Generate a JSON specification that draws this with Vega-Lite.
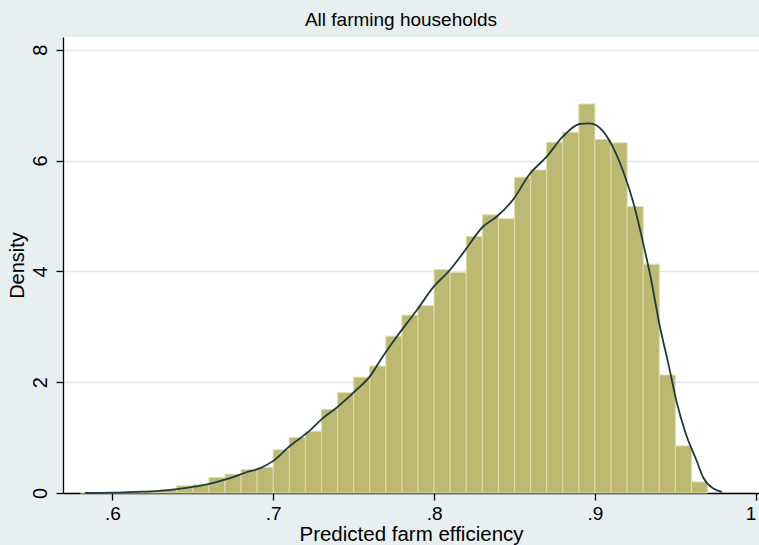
{
  "$schema": "https://vega.github.io/schema/vega-lite/v6.json",
  "width": 696,
  "height": 456,
  "autosize": "none",
  "padding": {"left": 63, "top": 37, "right": 0, "bottom": 52},
  "background": "#e8eff1",
  "config": {
    "view": {"fill": "white", "stroke": null},
    "font": "Liberation Sans",
    "axis": {"labelFont": "Liberation Sans", "titleFont": "Liberation Sans", "labelColor": "black", "titleColor": "black", "titleFontWeight": "normal"}
  },
  "title": {"text": "All farming households", "fontSize": 19, "fontWeight": "normal", "color": "black", "anchor": "middle", "offset": 7, "dx": -10, "font": "Liberation Sans"},
  "datasets": {
    "bins": [
      {"start": 0.58, "end": 0.59, "density": 0.005},
      {"start": 0.59, "end": 0.60, "density": 0.01},
      {"start": 0.60, "end": 0.61, "density": 0.01},
      {"start": 0.61, "end": 0.62, "density": 0.02},
      {"start": 0.62, "end": 0.63, "density": 0.03},
      {"start": 0.63, "end": 0.64, "density": 0.06},
      {"start": 0.64, "end": 0.65, "density": 0.13},
      {"start": 0.65, "end": 0.66, "density": 0.15},
      {"start": 0.66, "end": 0.67, "density": 0.28},
      {"start": 0.67, "end": 0.68, "density": 0.34},
      {"start": 0.68, "end": 0.69, "density": 0.42},
      {"start": 0.69, "end": 0.70, "density": 0.46},
      {"start": 0.70, "end": 0.71, "density": 0.78},
      {"start": 0.71, "end": 0.72, "density": 1.00},
      {"start": 0.72, "end": 0.73, "density": 1.11},
      {"start": 0.73, "end": 0.74, "density": 1.51},
      {"start": 0.74, "end": 0.75, "density": 1.81},
      {"start": 0.75, "end": 0.76, "density": 2.09},
      {"start": 0.76, "end": 0.77, "density": 2.29},
      {"start": 0.77, "end": 0.78, "density": 2.83},
      {"start": 0.78, "end": 0.79, "density": 3.21},
      {"start": 0.79, "end": 0.80, "density": 3.38},
      {"start": 0.80, "end": 0.81, "density": 4.03},
      {"start": 0.81, "end": 0.82, "density": 3.98},
      {"start": 0.82, "end": 0.83, "density": 4.63},
      {"start": 0.83, "end": 0.84, "density": 5.02},
      {"start": 0.84, "end": 0.85, "density": 4.95},
      {"start": 0.85, "end": 0.86, "density": 5.70},
      {"start": 0.86, "end": 0.87, "density": 5.83},
      {"start": 0.87, "end": 0.88, "density": 6.33},
      {"start": 0.88, "end": 0.89, "density": 6.51},
      {"start": 0.89, "end": 0.90, "density": 7.02},
      {"start": 0.90, "end": 0.91, "density": 6.38},
      {"start": 0.91, "end": 0.92, "density": 6.32},
      {"start": 0.92, "end": 0.93, "density": 5.17},
      {"start": 0.93, "end": 0.94, "density": 4.13},
      {"start": 0.94, "end": 0.95, "density": 2.13},
      {"start": 0.95, "end": 0.96, "density": 0.85},
      {"start": 0.96, "end": 0.97, "density": 0.20}
    ],
    "kde": [
      {"x": 0.583, "density": 0.0},
      {"x": 0.600, "density": 0.005},
      {"x": 0.615, "density": 0.02},
      {"x": 0.629, "density": 0.04},
      {"x": 0.640, "density": 0.07},
      {"x": 0.650, "density": 0.11},
      {"x": 0.661, "density": 0.17},
      {"x": 0.671, "density": 0.25},
      {"x": 0.683, "density": 0.37},
      {"x": 0.692, "density": 0.45},
      {"x": 0.700, "density": 0.58},
      {"x": 0.710, "density": 0.84},
      {"x": 0.7225, "density": 1.12},
      {"x": 0.730, "density": 1.33},
      {"x": 0.739, "density": 1.53},
      {"x": 0.7517, "density": 1.86},
      {"x": 0.760, "density": 2.10},
      {"x": 0.768, "density": 2.46},
      {"x": 0.776, "density": 2.79},
      {"x": 0.790, "density": 3.33},
      {"x": 0.7994, "density": 3.71},
      {"x": 0.810, "density": 4.03},
      {"x": 0.818, "density": 4.33},
      {"x": 0.8305, "density": 4.81},
      {"x": 0.839, "density": 4.99},
      {"x": 0.849, "density": 5.29},
      {"x": 0.859, "density": 5.74},
      {"x": 0.870, "density": 6.07},
      {"x": 0.880, "density": 6.43},
      {"x": 0.8905, "density": 6.66},
      {"x": 0.8967, "density": 6.67},
      {"x": 0.905, "density": 6.53},
      {"x": 0.911, "density": 6.25},
      {"x": 0.918, "density": 5.77},
      {"x": 0.924, "density": 5.23},
      {"x": 0.930, "density": 4.51},
      {"x": 0.935, "density": 3.84},
      {"x": 0.940, "density": 3.06},
      {"x": 0.9456, "density": 2.34},
      {"x": 0.951, "density": 1.62},
      {"x": 0.9564, "density": 1.08},
      {"x": 0.963, "density": 0.60},
      {"x": 0.9675, "density": 0.27},
      {"x": 0.9737, "density": 0.08},
      {"x": 0.979, "density": 0.02}
    ]
  },
  "layer": [
    {
      "data": {"name": "bins"},
      "mark": {"type": "rect", "fill": "#bcb973", "stroke": "#dfdca8", "strokeWidth": 1},
      "encoding": {
        "x": {
          "field": "start", "type": "quantitative",
          "scale": {"domain": [0.5693, 1.002], "nice": false, "zero": false},
          "axis": {
            "values": [0.6, 0.7, 0.8, 0.9, 1],
            "labelExpr": "datum.value >= 1 ? '1' : '.' + round(datum.value * 10)",
            "labelFlush": 6,
            "title": "Predicted farm efficiency",
            "titleFontSize": 20.5,
            "labelFontSize": 19,
            "labelPadding": 4,
            "titlePadding": 1,
            "tickSize": 7,
            "tickColor": "black",
            "domainColor": "black",
            "domainWidth": 1.3,
            "tickWidth": 1.3,
            "grid": false
          }
        },
        "x2": {"field": "end"},
        "y": {
          "field": "density", "type": "quantitative",
          "scale": {"domain": [0, 8.23], "nice": false},
          "axis": {
            "values": [0, 2, 4, 6, 8],
            "format": "d",
            "title": "Density",
            "titleFontSize": 20,
            "labelFontSize": 20,
            "labelAngle": -90,
            "labelAlign": "center",
            "labelBaseline": "bottom",
            "labelPadding": 6,
            "titlePadding": 3,
            "tickSize": 7,
            "tickColor": "black",
            "domainColor": "black",
            "domainWidth": 1.3,
            "tickWidth": 1.3,
            "grid": true,
            "gridColor": "#dfe8ec",
            "gridWidth": 1.3
          }
        },
        "y2": {"datum": 0}
      }
    },
    {
      "data": {"name": "kde"},
      "mark": {"type": "line", "interpolate": "monotone", "color": "#1f3b3d", "strokeWidth": 1.8},
      "encoding": {
        "x": {"field": "x", "type": "quantitative"},
        "y": {"field": "density", "type": "quantitative"}
      }
    }
  ]
}
